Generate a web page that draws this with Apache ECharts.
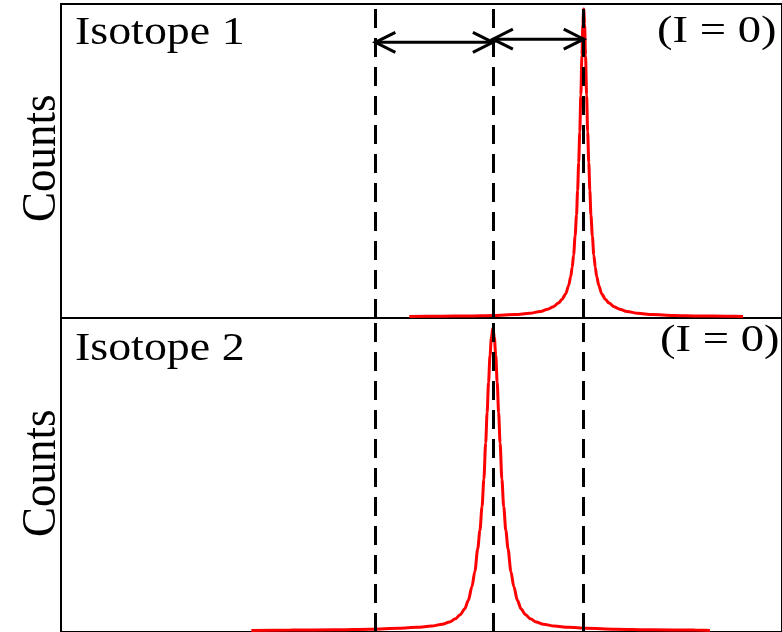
<!DOCTYPE html>
<html>
<head>
<meta charset="utf-8">
<script src="https://cdn.jsdelivr.net/npm/echarts@6/dist/echarts.min.js"></script>
<style>
  html, body { margin: 0; padding: 0; background: #ffffff; }
  #chart { width: 782px; height: 632px; }
</style>
</head>
<body>
<div id="chart"></div>
<script>
// Panel labels
const panelNames = ['Isotope 1', 'Isotope 2'];
const spinLabels = ['(I = 0)', '(I = 0)'];
const yAxisName = 'Counts';

// Reference line positions (energy, arbitrary units)
const markerPositions = [43.6, 59.9, 72.5];

// Shift arrows: [from, to, height]
const shiftArrows = [
  [43.6, 59.9, 0.878],
  [59.9, 72.5, 0.888]
];

// Isotope 1 spectrum: energy / counts (normalised)
const iso1Energy = [48.3, 52.5, 56.5, 60.0, 63.0, 65.0, 66.5, 67.5, 68.3, 69.0, 69.5, 70.0, 70.4, 70.7, 70.9, 71.1, 71.3, 71.5, 71.65, 71.8, 71.95, 72.1, 72.25, 72.38, 72.5,
                    72.62, 72.75, 72.9, 73.05, 73.2, 73.35, 73.5, 73.7, 73.9, 74.1, 74.3, 74.6, 75.0, 75.5, 76.0, 76.7, 77.5, 78.5, 80.0, 82.0, 85.0, 88.5, 92.5, 94.6];
const iso1Counts = [0.005, 0.0055, 0.0065, 0.008, 0.011, 0.015, 0.021, 0.028, 0.036, 0.048, 0.060, 0.077, 0.103, 0.132, 0.162, 0.201, 0.260, 0.328, 0.406, 0.495, 0.592, 0.710, 0.837, 0.935, 0.984,
                    0.935, 0.837, 0.710, 0.592, 0.495, 0.406, 0.328, 0.260, 0.201, 0.162, 0.132, 0.103, 0.077, 0.060, 0.048, 0.036, 0.028, 0.021, 0.015, 0.011, 0.008, 0.0065, 0.0055, 0.005];

// Isotope 2 spectrum
const iso2Energy = [26.4, 31.9, 37.9, 42.9, 46.9, 49.4, 51.4, 52.9, 53.9, 54.7, 55.4, 56.0, 56.5, 57.0, 57.4, 57.8, 58.1, 58.4, 58.65, 58.9, 59.1, 59.3, 59.5, 59.7, 59.9,
                    60.1, 60.3, 60.5, 60.7, 60.9, 61.15, 61.4, 61.7, 62.0, 62.4, 62.8, 63.3, 63.8, 64.4, 65.1, 65.9, 66.9, 68.4, 70.4, 72.9, 76.9, 81.9, 87.9, 90.0];
const iso2Counts = [0.005, 0.006, 0.007, 0.009, 0.012, 0.015, 0.019, 0.025, 0.032, 0.042, 0.056, 0.074, 0.101, 0.145, 0.193, 0.265, 0.323, 0.400, 0.487, 0.602, 0.698, 0.795, 0.881, 0.939, 0.968,
                    0.939, 0.881, 0.795, 0.698, 0.602, 0.487, 0.400, 0.323, 0.265, 0.193, 0.145, 0.101, 0.074, 0.056, 0.042, 0.032, 0.025, 0.019, 0.015, 0.012, 0.009, 0.007, 0.006, 0.005];

const SERIF = '"Liberation Serif", "Times New Roman", serif';
const RED = '#ff0000';

function pairs(xs, ys) { return xs.map((x, i) => [x, ys[i]]); }

function markerLineOpt() {
  return {
    silent: true,
    symbol: ['none', 'none'],
    label: { show: false },
    lineStyle: { color: '#000', width: 3, type: [19, 10], opacity: 1 },
    emphasis: { disabled: true },
    data: markerPositions.map(v => ({ xAxis: v }))
  };
}

const chart = echarts.init(document.getElementById('chart'), null, { renderer: 'canvas' });

const axisX = (gi) => ({
  type: 'value', gridIndex: gi, min: 0, max: 100,
  axisLine: { show: false }, axisTick: { show: false }, axisLabel: { show: false }, splitLine: { show: false }
});
const axisY = (gi) => ({
  type: 'value', gridIndex: gi, min: 0, max: 1,
  axisLine: { show: false }, axisTick: { show: false }, axisLabel: { show: false }, splitLine: { show: false }
});

const textStyle = (txt, size) => ({ text: txt, font: size + 'px ' + SERIF, fill: '#000' });

chart.setOption({
  animation: false,
  backgroundColor: '#fff',
  grid: [
    { left: 61, top: 4, width: 723, height: 314, show: true, borderColor: '#000', borderWidth: 2, backgroundColor: 'transparent' },
    { left: 61, top: 318, width: 723, height: 314, show: true, borderColor: '#000', borderWidth: 2, backgroundColor: 'transparent' }
  ],
  xAxis: [axisX(0), axisX(1)],
  yAxis: [axisY(0), axisY(1)],
  series: [
    {
      type: 'line', xAxisIndex: 0, yAxisIndex: 0,
      data: pairs(iso1Energy, iso1Counts),
      showSymbol: false, smooth: 0.3, smoothMonotone: 'x',
      lineStyle: { color: RED, width: 3 }, z: 3,
      markLine: markerLineOpt()
    },
    {
      type: 'line', xAxisIndex: 1, yAxisIndex: 1,
      data: pairs(iso2Energy, iso2Counts),
      showSymbol: false, smooth: 0.3, smoothMonotone: 'x',
      lineStyle: { color: RED, width: 3 }, z: 3,
      markLine: markerLineOpt()
    },
    {
      type: 'custom', xAxisIndex: 0, yAxisIndex: 0, z: 5, silent: true,
      data: shiftArrows,
      renderItem: function (params, api) {
        const a = api.coord([api.value(0), api.value(2)]);
        const b = api.coord([api.value(1), api.value(2)]);
        const hx = 20, hy = 10;
        const st = { stroke: '#000', lineWidth: 3, fill: null, lineCap: 'butt', lineJoin: 'miter' };
        return {
          type: 'group',
          children: [
            { type: 'line', shape: { x1: a[0], y1: a[1], x2: b[0], y2: b[1] }, style: st },
            { type: 'polyline', shape: { points: [[a[0] + hx, a[1] - hy], [a[0], a[1]], [a[0] + hx, a[1] + hy]] }, style: st },
            { type: 'polyline', shape: { points: [[b[0] - hx, b[1] - hy], [b[0], b[1]], [b[0] - hx, b[1] + hy]] }, style: st }
          ]
        };
      }
    }
  ],
  graphic: [
    { type: 'text', left: 75, top: 13, scaleX: 1.12, style: textStyle(panelNames[0], 41), z: 10 },
    { type: 'text', left: 75, top: 329, scaleX: 1.12, style: textStyle(panelNames[1], 41), z: 10 },
    { type: 'text', left: 657, top: 14, scaleX: 1.26, style: textStyle(spinLabels[0], 37), z: 10 },
    { type: 'text', left: 660, top: 323, scaleX: 1.26, style: textStyle(spinLabels[1], 37), z: 10 },
    { type: 'text', x: 17, y: 222, rotation: Math.PI / 2, scaleY: 1.1, style: textStyle(yAxisName, 45), z: 10 },
    { type: 'text', x: 17, y: 537, rotation: Math.PI / 2, scaleY: 1.1, style: textStyle(yAxisName, 45), z: 10 }
  ]
});
</script>
</body>
</html>
